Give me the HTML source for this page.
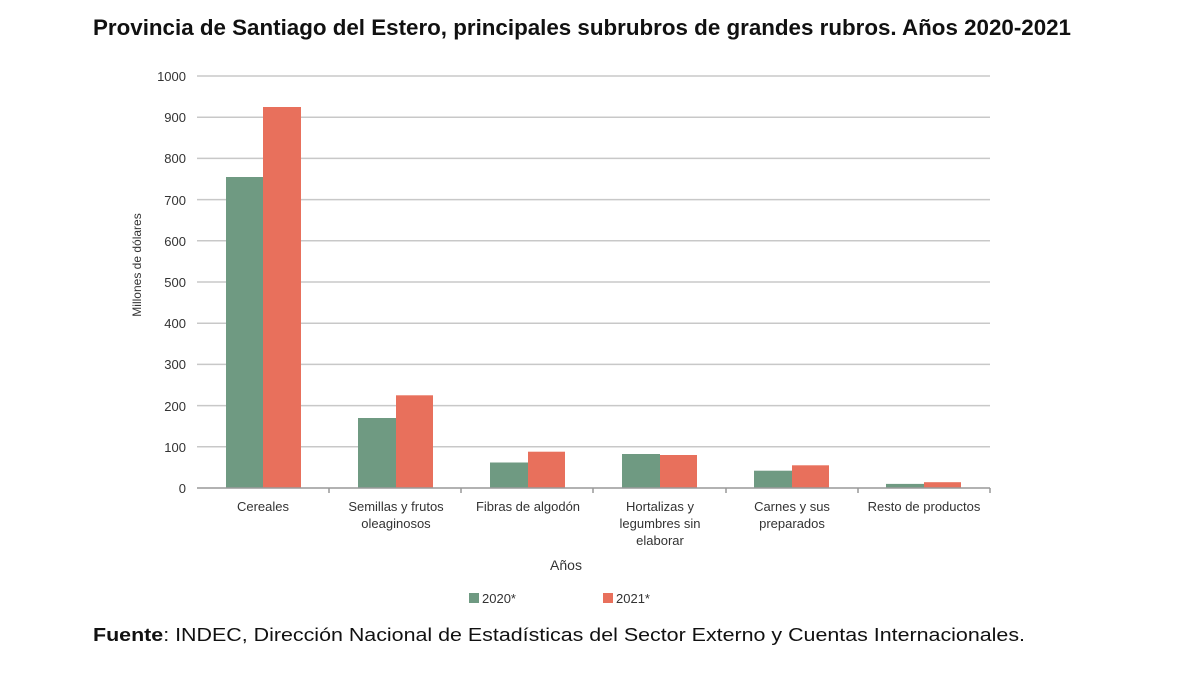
<!DOCTYPE html>
<html><head><meta charset="utf-8"><style>
body{margin:0;background:#fff;}
svg{display:block;font-family:"Liberation Sans",sans-serif;}
</style></head><body>
<svg width="1200" height="675" viewBox="0 0 1200 675">
<text x="93" y="35" font-size="22" font-weight="bold" fill="#111" textLength="978" lengthAdjust="spacingAndGlyphs">Provincia de Santiago del Estero, principales subrubros de grandes rubros. Años 2020-2021</text>
<g stroke="#c8c8c8" stroke-width="1.5">
<line x1="197" x2="990" y1="76" y2="76"/><line x1="197" x2="990" y1="117.2" y2="117.2"/>
<line x1="197" x2="990" y1="158.4" y2="158.4"/><line x1="197" x2="990" y1="199.6" y2="199.6"/>
<line x1="197" x2="990" y1="240.8" y2="240.8"/><line x1="197" x2="990" y1="282" y2="282"/>
<line x1="197" x2="990" y1="323.2" y2="323.2"/><line x1="197" x2="990" y1="364.4" y2="364.4"/>
<line x1="197" x2="990" y1="405.6" y2="405.6"/><line x1="197" x2="990" y1="446.8" y2="446.8"/>
</g>
<g font-size="13" fill="#333" text-anchor="end">
<text x="186" y="81">1000</text><text x="186" y="122">900</text><text x="186" y="163">800</text>
<text x="186" y="205">700</text><text x="186" y="246">600</text><text x="186" y="287">500</text>
<text x="186" y="328">400</text><text x="186" y="369">300</text><text x="186" y="411">200</text>
<text x="186" y="452">100</text><text x="186" y="493">0</text>
</g>
<text transform="translate(141,265) rotate(-90)" font-size="12" fill="#333" text-anchor="middle">Millones de dólares</text>
<g fill="#6f9a82">
<rect x="226" y="177" width="37" height="311"/>
<rect x="358" y="418" width="38" height="70"/>
<rect x="490" y="462.5" width="38" height="25.5"/>
<rect x="622" y="454" width="38" height="34"/>
<rect x="754" y="470.7" width="38" height="17.3"/>
<rect x="886" y="483.9" width="38" height="4.1"/>
</g>
<g fill="#e8705c">
<rect x="263" y="107" width="38" height="381"/>
<rect x="396" y="395.3" width="37" height="92.7"/>
<rect x="528" y="451.7" width="37" height="36.3"/>
<rect x="660" y="455" width="37" height="33"/>
<rect x="792" y="465.3" width="37" height="22.7"/>
<rect x="924" y="482.2" width="37" height="5.8"/>
</g>
<line x1="197" x2="990" y1="488" y2="488" stroke="#999" stroke-width="1.5"/>
<g stroke="#999" stroke-width="1.5">
<line x1="329" x2="329" y1="488" y2="493"/><line x1="461" x2="461" y1="488" y2="493"/>
<line x1="593" x2="593" y1="488" y2="493"/><line x1="726" x2="726" y1="488" y2="493"/>
<line x1="858" x2="858" y1="488" y2="493"/><line x1="990" x2="990" y1="488" y2="493"/>
</g>
<g font-size="13" fill="#333" text-anchor="middle">
<text x="263" y="511">Cereales</text>
<text x="396" y="511">Semillas y frutos</text><text x="396" y="528">oleaginosos</text>
<text x="528" y="511">Fibras de algodón</text>
<text x="660" y="511">Hortalizas y</text><text x="660" y="528">legumbres sin</text><text x="660" y="545">elaborar</text>
<text x="792" y="511">Carnes y sus</text><text x="792" y="528">preparados</text>
<text x="924" y="511">Resto de productos</text>
<text x="566" y="570" font-size="14">Años</text>
</g>
<rect x="469" y="593" width="10" height="10" fill="#6f9a82"/>
<text x="482" y="603" font-size="13" fill="#333">2020*</text>
<rect x="603" y="593" width="10" height="10" fill="#e8705c"/>
<text x="616" y="603" font-size="13" fill="#333">2021*</text>
<text x="93" y="641" font-size="18" fill="#111" textLength="932" lengthAdjust="spacingAndGlyphs"><tspan font-weight="bold">Fuente</tspan>: INDEC, Dirección Nacional de Estadísticas del Sector Externo y Cuentas Internacionales.</text>
</svg>
</body></html>
